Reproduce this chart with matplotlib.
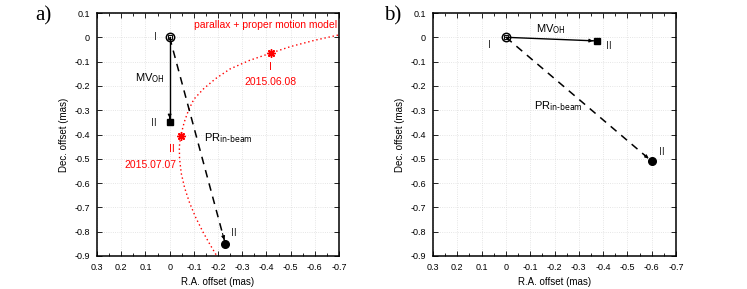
import matplotlib
matplotlib.use("Agg")
import matplotlib.pyplot as plt
import matplotlib.ticker as ticker

plt.rcParams['font.family'] = ['Liberation Sans', 'DejaVu Sans']

# parallax + proper motion model track (panel a)
model_ra = [-0.78, -0.70, -0.60, -0.50, -0.415, -0.33, -0.25, -0.19, -0.14, -0.10, -0.078, -0.06,
            -0.046, -0.040, -0.041, -0.048, -0.062, -0.082, -0.107, -0.137, -0.168, -0.195, -0.21]
model_dec = [0.025, 0.010, -0.012, -0.038, -0.066, -0.095, -0.130, -0.170, -0.212, -0.255, -0.300, -0.350,
             -0.405, -0.450, -0.500, -0.560, -0.620, -0.680, -0.740, -0.800, -0.855, -0.900, -0.925]
model_epochs_ra = [-0.418, -0.045]
model_epochs_dec = [-0.066, -0.405]
model_epoch_labels = ['2015.06.08', '2015.07.07']

# (start, MV_OH end, PR_in-beam end) for each panel
ref_a = (0.0, 0.0)
mv_a = (0.0, -0.35)
pr_a = (-0.23, -0.85)

ref_b = (0.0, 0.0)
mv_b = (-0.375, -0.015)
pr_b = (-0.60, -0.51)

x_ticks = [0.3, 0.2, 0.1, 0, -0.1, -0.2, -0.3, -0.4, -0.5, -0.6, -0.7]
y_ticks = [0.1, 0, -0.1, -0.2, -0.3, -0.4, -0.5, -0.6, -0.7, -0.8, -0.9]


def fmt(v, pos=None):
    if abs(v) < 1e-9:
        return '0'
    return ('%.1f' % v)


def setup(ax):
    ax.set_xlim(0.3, -0.7)
    ax.set_ylim(-0.9, 0.1)
    ax.set_xticks(x_ticks)
    ax.set_yticks(y_ticks)
    ax.xaxis.set_minor_locator(ticker.MultipleLocator(0.05))
    ax.xaxis.set_major_formatter(ticker.FuncFormatter(fmt))
    ax.yaxis.set_major_formatter(ticker.FuncFormatter(fmt))
    ax.tick_params(which='both', direction='in', top=True, right=True, labelsize=6.5, pad=5, width=0.6)
    ax.tick_params(which='major', length=3.5)
    ax.tick_params(which='minor', length=2)
    ax.grid(True, which='major', color='#dddddd', linestyle=':', linewidth=0.6)
    for s in ax.spines.values():
        s.set_linewidth(1.1)
    ax.set_xlabel('R.A. offset (mas)', fontsize=7, labelpad=4)
    ax.set_ylabel('Dec. offset (mas)', fontsize=7, labelpad=4)


def draw_vectors(ax, ref, mv, pr):
    ax.plot([ref[0], mv[0]], [ref[1], mv[1]], color='black', lw=1.0, zorder=3)
    ax.plot([ref[0], pr[0]], [ref[1], pr[1]], color='black', lw=1.1, ls=(0, (5, 4)), zorder=3)
    for end in (mv, pr):
        ax.annotate('', xy=end, xytext=(ref[0] + 0.95 * (end[0] - ref[0]), ref[1] + 0.95 * (end[1] - ref[1])),
                    arrowprops=dict(arrowstyle='-|>', color='black', lw=0.8, mutation_scale=5,
                                    shrinkA=0, shrinkB=3), zorder=4)
    ax.plot(ref[0], ref[1], 'o', ms=6, mfc='none', mec='black', mew=1.1, zorder=5)
    ax.plot(ref[0], ref[1], 's', ms=2.5, mfc='none', mec='black', mew=0.7, zorder=5)
    ax.plot(mv[0], mv[1], 's', ms=5, color='black', zorder=5)
    ax.plot(pr[0], pr[1], 'o', ms=5.5, color='black', zorder=5)


fig = plt.figure(figsize=(7.47, 2.89), dpi=100)
ax1 = fig.add_axes([0.1299, 0.1142, 0.3240, 0.8408])
ax2 = fig.add_axes([0.5797, 0.1142, 0.3253, 0.8408])

# panel a
setup(ax1)
ax1.plot(model_ra, model_dec, color='red', ls=(0, (1, 2)), lw=1.0, zorder=2)
ax1.plot(model_epochs_ra, model_epochs_dec, marker=(8, 2, 0), ls='none', ms=6, color='red', mew=1.0, zorder=4)
ax1.plot(model_epochs_ra, model_epochs_dec, 's', ms=3, color='red', zorder=4)
draw_vectors(ax1, ref_a, mv_a, pr_a)

ax1.text(0.057, 0.002, 'I', fontsize=7.5, color='#333333', ha='center', va='center')
ax1.text(0.064, -0.351, 'II', fontsize=7.5, color='#333333', ha='center', va='center')
ax1.text(-0.267, -0.804, 'II', fontsize=7.5, color='#333333', ha='center', va='center')
ax1.text(0.081, -0.168, r'MV$_{\rm OH}$', fontsize=8, ha='center', va='center')
ax1.text(-0.243, -0.416, r'PR$_{\rm in\text{-}beam}$', fontsize=8, ha='center', va='center')
ax1.text(-0.418, -0.123, 'I', fontsize=7.5, color='red', ha='center', va='center')
ax1.text(-0.418, -0.183, model_epoch_labels[0], fontsize=7.5, color='red', ha='center', va='center')
ax1.text(-0.009, -0.461, 'II', fontsize=7.5, color='red', ha='center', va='center')
ax1.text(0.078, -0.525, model_epoch_labels[1], fontsize=7.5, color='red', ha='center', va='center')
ax1.text(-0.69, 0.05, 'parallax + proper motion model', fontsize=7.5, color='red', ha='right', va='center')

# panel b
setup(ax2)
draw_vectors(ax2, ref_b, mv_b, pr_b)
ax2.text(0.068, -0.032, 'I', fontsize=7.5, color='#333333', ha='center', va='center')
ax2.text(-0.422, -0.035, 'II', fontsize=7.5, color='#333333', ha='center', va='center')
ax2.text(-0.64, -0.47, 'II', fontsize=7.5, color='#333333', ha='center', va='center')
ax2.text(-0.184, 0.033, r'MV$_{\rm OH}$', fontsize=8, ha='center', va='center')
ax2.text(-0.215, -0.283, r'PR$_{\rm in\text{-}beam}$', fontsize=8, ha='center', va='center')

fig.text(43 / 747, 1 - 16 / 289, 'a)', fontsize=15, family='Liberation Serif', ha='center', va='center')
fig.text(393 / 747, 1 - 16 / 289, 'b)', fontsize=15, family='Liberation Serif', ha='center', va='center')

fig.savefig('out.png', dpi=100)
